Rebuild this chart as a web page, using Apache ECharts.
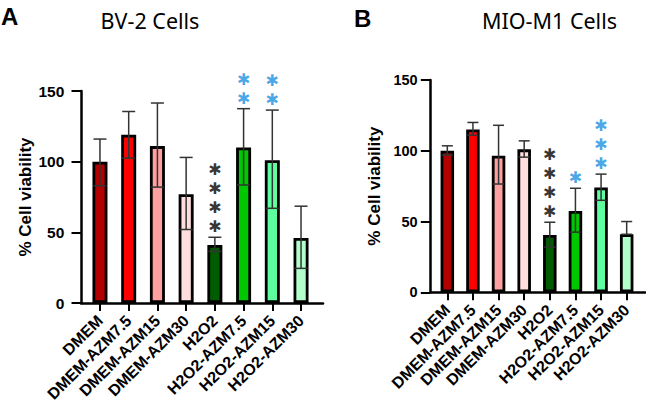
<!DOCTYPE html>
<html>
<head>
<meta charset="utf-8">
<script src="https://cdn.jsdelivr.net/npm/echarts@6/dist/echarts.min.js"></script>
<style>html,body{margin:0;padding:0;background:#fff;}#c{width:646px;height:407px;}</style>
</head>
<body>
<div id="c"></div>
<script>
const categories = ['DMEM','DMEM-AZM7.5','DMEM-AZM15','DMEM-AZM30','H2O2','H2O2-AZM7.5','H2O2-AZM15','H2O2-AZM30'];
const barColors = ['#b30000','#ff0000','#ffa0a0','#ffdede','#005c00','#00c800','#5eff9e','#b2ffcb'];
const yTicks = [0, 50, 100, 150];

const bv2Mean = [100, 119, 111, 77, 41, 110, 101, 46];
const bv2High = [116, 135.5, 141.5, 103, 46.5, 137.5, 136.5, 68.5];
const bv2Low  = [83, 102.5, 82, 52, 36.5, 83.5, 67, 24.5];
const bv2Stars = ['', '', '', '', '****', '**', '**', ''];

const mioMean = [100, 115, 96.5, 101, 40.5, 57.5, 74, 41];
const mioHigh = [103.5, 120, 118, 107, 49.5, 73.5, 83.5, 50];
const mioLow  = [97, 111, 76.5, 95.5, 32, 42.5, 65, 41];
const mioStars = ['', '', '', '', '****', '*', '***', ''];

const BLACK = '#000';
const BLUE = '#1a8fe0';
const FONT = 'Liberation Sans, Arial, sans-serif';
const STAR_FONT = 'DejaVu Sans, sans-serif';

function barSeries(xi, yi, mean, bw) {
  return {
    type: 'bar', xAxisIndex: xi, yAxisIndex: yi, barWidth: bw, z: 2,
    data: mean.map((v, i) => ({ value: v, itemStyle: { color: barColors[i] } })),
    itemStyle: { borderColor: '#000', borderWidth: 2.8 }
  };
}
function errSeries(xi, yi, high, low, capHalf) {
  return {
    type: 'custom', xAxisIndex: xi, yAxisIndex: yi, z: 5, silent: true,
    data: categories.map((c, i) => [i, high[i], low[i]]),
    renderItem: function (params, api) {
      const t = api.coord([api.value(0), api.value(1)]);
      const b = api.coord([api.value(0), api.value(2)]);
      const st = { stroke: '#333', lineWidth: 1.5 };
      return { type: 'group', children: [
        { type: 'line', shape: { x1: t[0], y1: t[1], x2: b[0], y2: b[1] }, style: st },
        { type: 'line', shape: { x1: t[0] - capHalf, y1: t[1], x2: t[0] + capHalf, y2: t[1] }, style: st },
        { type: 'line', shape: { x1: b[0] - capHalf, y1: b[1], x2: b[0] + capHalf, y2: b[1] }, style: st }
      ]};
    }
  };
}
function starSeries(xi, yi, high, stars) {
  return {
    type: 'scatter', xAxisIndex: xi, yAxisIndex: yi, symbolSize: 0, z: 6, silent: true,
    data: categories.map((c, i) => ({
      value: [i, high[i]],
      label: { color: c === 'H2O2' ? BLACK : BLUE }
    })),
    label: {
      show: true, position: 'top', distance: 1,
      formatter: p => stars[p.dataIndex].split('').map(() => '\u2731').join('\n'),
      fontSize: 16, lineHeight: 19, fontFamily: STAR_FONT
    }
  };
}
function catAxis(gi) {
  return {
    type: 'category', gridIndex: gi, data: categories,
    axisLine: { show: false },
    axisTick: { show: true, alignWithLabel: true, length: 8, lineStyle: { color: '#000', width: 2 } },
    axisLabel: { rotate: 45, interval: 0, margin: 15, color: '#000', fontWeight: 'bold', fontSize: 16, fontFamily: FONT },
    splitLine: { show: false }
  };
}
function lineAxis(gi) {
  return {
    type: 'category', gridIndex: gi, data: [''],
    axisLine: { show: true, lineStyle: { color: '#000', width: 2.5 } },
    axisTick: { show: false }, axisLabel: { show: false }, splitLine: { show: false }
  };
}
function valAxis(gi, offset, margin, fs) {
  return {
    type: 'value', gridIndex: gi, min: yTicks[0], max: yTicks[yTicks.length - 1], interval: 50, offset: offset,
    name: '% Cell viability', nameLocation: 'middle', nameGap: 47, nameRotate: 90,
    nameTextStyle: { color: '#000', fontWeight: 'bold', fontSize: 17, fontFamily: FONT },
    axisLine: { show: true, lineStyle: { color: '#000', width: 2.5 } },
    axisTick: { show: true, length: 9.5, lineStyle: { color: '#000', width: 2 } },
    axisLabel: { margin: margin, color: '#000', fontWeight: 'bold', fontSize: fs, fontFamily: FONT },
    splitLine: { show: false }
  };
}
function hiddenVal(gi) {
  return { type: 'value', gridIndex: gi, show: false, min: 0, max: 150 };
}

const chart = echarts.init(document.getElementById('c'), null, { renderer: 'svg' });
chart.setOption({
  animation: false,
  backgroundColor: '#fff',
  grid: [
    { left: 85.6, top: 91, width: 229.8, height: 212, outerBoundsMode: 'none' },
    { left: 81, top: 91, width: 242, height: 212, outerBoundsMode: 'none' },
    { left: 434.5, top: 80, width: 205, height: 212.3, outerBoundsMode: 'none' },
    { left: 430.3, top: 80, width: 215, height: 212.3, outerBoundsMode: 'none' }
  ],
  xAxis: [catAxis(0), lineAxis(1), catAxis(2), lineAxis(3)],
  yAxis: [valAxis(0, 4.6, 16.7, 15.5), hiddenVal(1), valAxis(2, 4.2, 12.7, 14.5), hiddenVal(3)],
  series: [
    barSeries(0, 0, bv2Mean, 15),
    errSeries(0, 0, bv2High, bv2Low, 6.5),
    starSeries(0, 0, bv2High, bv2Stars),
    barSeries(2, 2, mioMean, 13.5),
    errSeries(2, 2, mioHigh, mioLow, 5.5),
    starSeries(2, 2, mioHigh, mioStars)
  ],
  graphic: [
    { type: 'text', left: 1, top: 4, style: { text: 'A', fontSize: 24, fontWeight: 'bold', fontFamily: FONT, fill: '#000' } },
    { type: 'text', x: 150, y: 20, style: { text: 'BV-2 Cells', fontSize: 21.5, fontFamily: 'Noto Sans, Open Sans, sans-serif', fill: '#000', align: 'center', verticalAlign: 'middle' } },
    { type: 'text', left: 354, top: 6, style: { text: 'B', fontSize: 24, fontWeight: 'bold', fontFamily: FONT, fill: '#000' } },
    { type: 'text', x: 549.5, y: 20, style: { text: 'MIO-M1 Cells', fontSize: 21.5, fontFamily: 'Noto Sans, Open Sans, sans-serif', fill: '#000', align: 'center', verticalAlign: 'middle' } }
  ]
});
</script>
</body>
</html>
